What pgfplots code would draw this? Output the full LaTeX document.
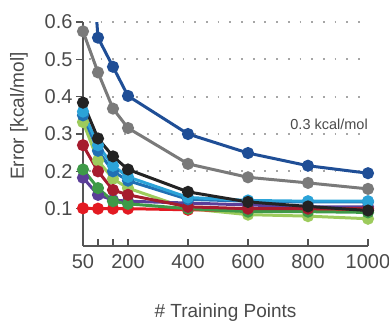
\documentclass[border=0pt]{standalone}
\usepackage{fontspec}
\setmainfont{Liberation Sans}
\usepackage{pgfplots}
\pgfplotsset{compat=1.18}
\definecolor{txt}{HTML}{4A4A4A}
\definecolor{axc}{HTML}{555555}
\definecolor{cdblue}{HTML}{1F4E96}
\definecolor{cgray}{HTML}{7A7A7A}
\definecolor{cblack}{HTML}{232323}
\definecolor{ccyan}{HTML}{2BA3D8}
\definecolor{cmblue}{HTML}{2070B4}
\definecolor{clgreen}{HTML}{9DCB5C}
\definecolor{cgreen}{HTML}{3E9A48}
\definecolor{cdred}{HTML}{A61C2E}
\definecolor{cpurple}{HTML}{5B3E98}
\definecolor{cred}{HTML}{E31A22}
\begin{document}
\begin{tikzpicture}
\useasboundingbox (-83pt,-75pt) rectangle (306pt,246pt);
\begin{axis}[
  at={(0,0)}, anchor=south west,
  scale only axis, width=285pt, height=224pt,
  xmin=50, xmax=1000, ymin=0, ymax=0.6,
  axis lines=left, axis line style={axc, line width=1.1pt, -},
  xtick={50,100,150,200,400,600,800,1000},
  xticklabels={50,,,200,400,600,800,1000},
  ytick={0.1,0.2,0.3,0.4,0.5,0.6},
  yticklabel style={/pgf/number format/fixed, /pgf/number format/fixed zerofill, /pgf/number format/precision=1},
  /pgf/number format/assume math mode=true,
  xtick align=inside, ytick align=outside,
  major tick length=7pt,
  tick style={axc, line width=1.1pt},
  ticklabel style={font=\fontsize{20}{24}\selectfont, text=txt},
  xticklabel style={yshift=-5pt},
  ymajorgrids,
  grid style={gray!70, line width=1.8pt, dash pattern=on 1.8pt off 9.9pt, dash phase=-6pt},
  xlabel={\# Training Points},
  ylabel={Error [kcal/mol]},
  label style={font=\fontsize{19}{23}\selectfont, text=txt},
  xlabel style={at={(axis description cs:0.5,-0.317)}, anchor=base},
  ylabel style={at={(axis description cs:-0.225,0.58)}, anchor=center},
  every axis plot/.append style={line width=3pt, mark=*, mark size=4.5pt, mark options={solid}},
  clip=true,
]
\addplot[clgreen, mark options={fill=clgreen, draw=clgreen}] coordinates {(50,0.332) (100,0.229) (150,0.18) (200,0.155) (400,0.100) (600,0.084) (800,0.080) (1000,0.073)};
\addplot[cpurple, mark options={fill=cpurple, draw=cpurple}] coordinates {(50,0.183) (100,0.137) (150,0.123) (200,0.120) (400,0.115) (600,0.110) (800,0.105) (1000,0.105)};
\addplot[cred, mark options={fill=cred, draw=cred}] coordinates {(50,0.101) (100,0.100) (150,0.100) (200,0.100) (400,0.097) (600,0.095) (800,0.095) (1000,0.095)};
\addplot[cgreen, mark options={fill=cgreen, draw=cgreen}] coordinates {(50,0.205) (100,0.155) (150,0.120) (200,0.113) (400,0.100) (600,0.092) (800,0.092) (1000,0.090)};
\addplot[cdred, mark options={fill=cdred, draw=cdred}] coordinates {(50,0.270) (100,0.200) (150,0.150) (200,0.137) (400,0.105) (600,0.100) (800,0.100) (1000,0.100)};
\addplot[cmblue, mark options={fill=cmblue, draw=cmblue}] coordinates {(50,0.350) (100,0.255) (150,0.200) (200,0.175) (400,0.125) (600,0.120) (800,0.118) (1000,0.118)};
\addplot[ccyan, mark options={fill=ccyan, draw=ccyan}] coordinates {(50,0.360) (100,0.270) (150,0.215) (200,0.185) (400,0.130) (600,0.122) (800,0.120) (1000,0.120)};
\addplot[cblack, mark options={fill=cblack, draw=cblack}] coordinates {(50,0.384) (100,0.288) (150,0.240) (200,0.205) (400,0.145) (600,0.118) (800,0.106) (1000,0.095)};
\addplot[cgray, mark options={fill=cgray, draw=cgray}] coordinates {(50,0.575) (100,0.465) (150,0.368) (200,0.316) (400,0.220) (600,0.184) (800,0.169) (1000,0.153)};
\addplot[cdblue, mark options={fill=cdblue, draw=cdblue}] coordinates {(50,1.100) (100,0.558) (150,0.480) (200,0.402) (400,0.300) (600,0.249) (800,0.215) (1000,0.195)};
\node[anchor=base east, inner sep=0pt, yshift=5pt, font=\fontsize{14.5}{17}\selectfont, text=txt] at (axis cs:1000,0.3) {0.3 kcal/mol};
\end{axis}
\end{tikzpicture}
\end{document}
